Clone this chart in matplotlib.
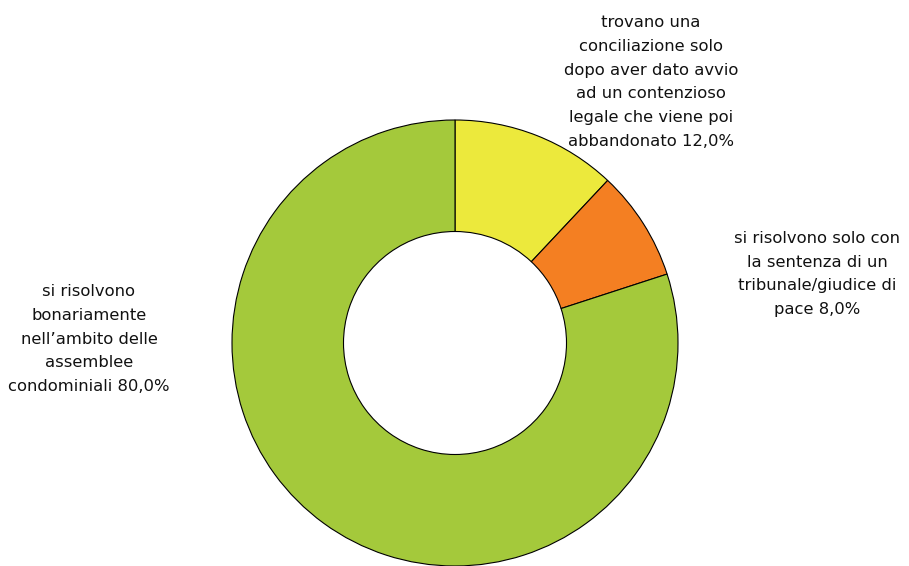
import matplotlib.pyplot as plt

labels = [
    "trovano una\nconciliazione solo\ndopo aver dato avvio\nad un contenzioso\nlegale che viene poi\nabbandonato 12,0%",
    "si risolvono solo con\nla sentenza di un\ntribunale/giudice di\npace 8,0%",
    "si risolvono\nbonariamente\nnell\u2019ambito delle\nassemblee\ncondominiali 80,0%",
]
values = [12.0, 8.0, 80.0]
colors = ["#ECE93C", "#F47F22", "#A4C93B"]

W, H = 909, 566
fig = plt.figure(figsize=(W / 100, H / 100), dpi=100)

# donut centred at (455, 343) px with radius 223 px
cx, cy, r = 455, 343, 223
ax = fig.add_axes([(cx - r) / W, (H - cy - r) / H, 2 * r / W, 2 * r / H])
ax.pie(values, colors=colors, startangle=90, counterclock=False, radius=1,
       wedgeprops=dict(width=0.5, edgecolor="black", linewidth=0.8))
ax.set_xlim(-1, 1)
ax.set_ylim(-1, 1)
ax.axis("off")

# label block centres in pixels
label_pos = [(651, 82), (817, 274), (89, 339)]
for text, (x, y) in zip(labels, label_pos):
    fig.text(x / W, 1 - y / H, text, ha="center", va="center", fontsize=11.8,
             linespacing=1.72, color="#111111", family="DejaVu Sans")

fig.savefig("out.png", dpi=100)
